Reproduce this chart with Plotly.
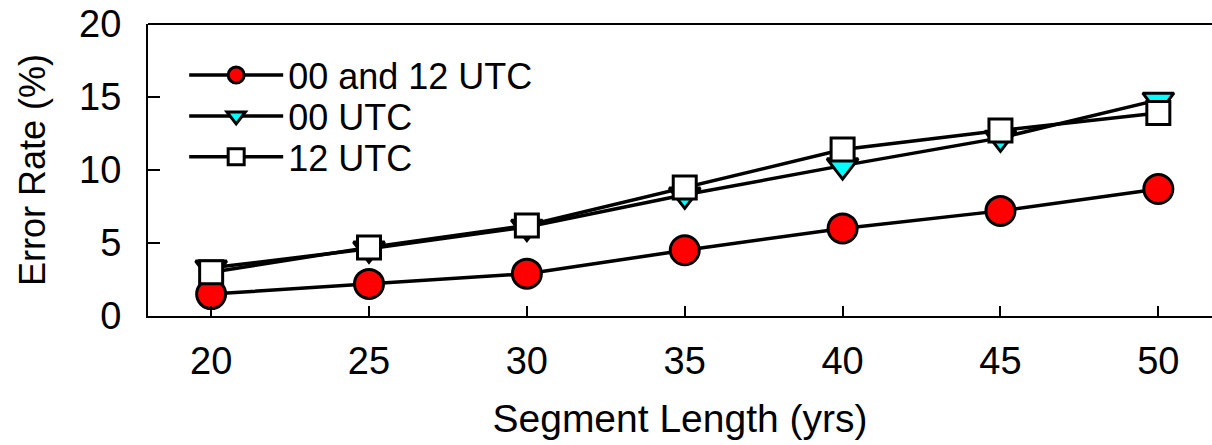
import plotly.graph_objects as go

segment_length = [20, 25, 30, 35, 40, 45, 50]
both_utc = [1.5, 2.2, 2.9, 4.5, 6.0, 7.2, 8.7]
utc_00 = [3.3, 4.6, 6.1, 8.3, 10.3, 12.2, 14.8]
utc_12 = [3.0, 4.7, 6.2, 8.8, 11.4, 12.7, 13.9]
x_ticks = [20, 25, 30, 35, 40, 45, 50]
y_ticks = [0, 5, 10, 15, 20]

FONT = "Liberation Sans, Arial, sans-serif"

fig = go.Figure()
fig.add_trace(go.Scatter(
    x=segment_length, y=both_utc, name="00 and 12 UTC", mode="lines+markers",
    line=dict(color="black", width=3.5), legend="legend",
    marker=dict(symbol="circle", size=29, color="#ff0000", line=dict(color="black", width=3)),
))
fig.add_trace(go.Scatter(
    x=segment_length, y=utc_00, name="00 UTC", mode="lines+markers",
    line=dict(color="black", width=3.5), legend="legend2",
    marker=dict(symbol="triangle-down", size=27, color="#00ffff", line=dict(color="black", width=3)),
))
fig.add_trace(go.Scatter(
    x=segment_length, y=utc_12, name="12 UTC", mode="lines+markers",
    line=dict(color="black", width=3.5), legend="legend3",
    marker=dict(symbol="square", size=23, color="white", line=dict(color="black", width=3)),
))

def leg(y):
    return dict(
        x=0.034, y=y, xanchor="left", yanchor="middle",
        bgcolor="rgba(0,0,0,0)", font=dict(size=36, family=FONT, color="black"),
        itemwidth=94, tracegroupgap=0,
    )

fig.update_layout(
    width=1212, height=445,
    margin=dict(l=148, r=0, t=24, b=129),
    paper_bgcolor="white", plot_bgcolor="white",
    font=dict(family=FONT, size=36, color="black"),
    showlegend=True,
    legend=leg(0.825),
    legend2=leg(0.685),
    legend3=leg(0.545),
    xaxis=dict(
        range=[18, 51.7], tickvals=x_ticks, ticks="inside", ticklen=10, tickwidth=2,
        tickcolor="black", showline=True, linewidth=2, linecolor="black",
        showgrid=False, zeroline=False, ticklabelstandoff=10,
        tickfont=dict(size=38),
        title=dict(text="Segment Length (yrs)", standoff=24, font=dict(size=39)),
    ),
    yaxis=dict(
        range=[0, 20], tickvals=y_ticks, ticks="inside", ticklen=12, tickwidth=2,
        tickcolor="black", showline=True, linewidth=2, linecolor="black",
        showgrid=False, zeroline=False, ticklabelstandoff=17,
        tickfont=dict(size=38),
        title=dict(text="Error Rate (%)", standoff=23, font=dict(size=36)),
    ),
    yaxis2=dict(
        overlaying="y", side="right", matches="y", tickvals=y_ticks[1:-1],
        ticks="inside", ticklen=4, tickwidth=2, tickcolor="black",
        showticklabels=False, showline=False, showgrid=False, zeroline=False,
    ),
    shapes=[dict(type="line", xref="paper", yref="paper", x0=0, x1=1, y0=1, y1=1,
                 line=dict(color="black", width=2))],
)

fig.write_html("out.html")
